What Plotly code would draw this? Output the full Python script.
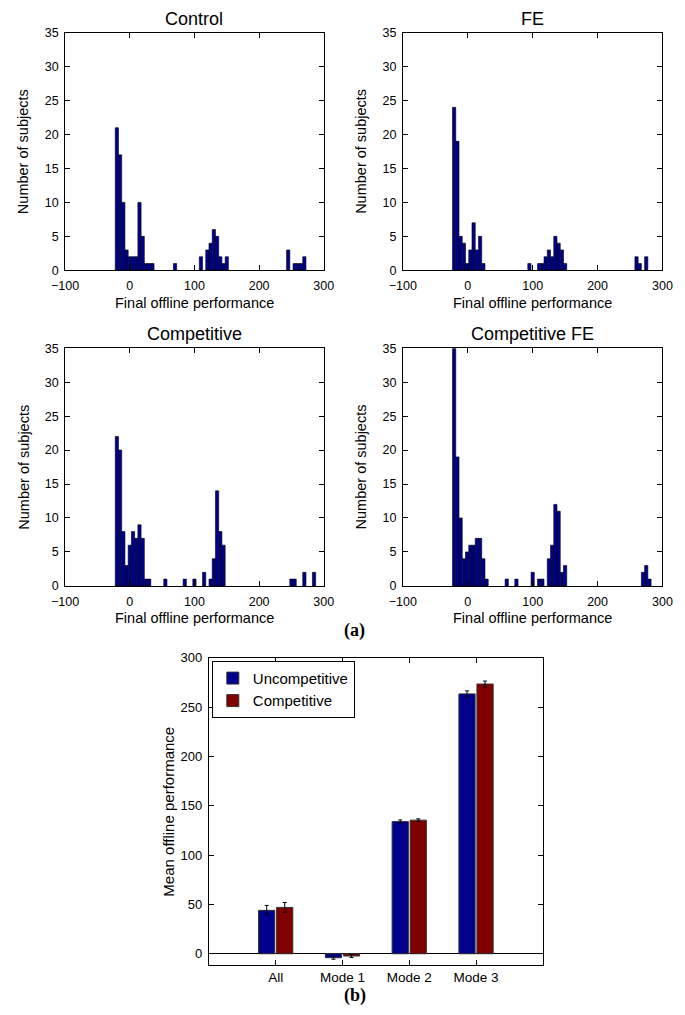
import plotly.graph_objects as go

# ---------------- data: histograms (bin centres and counts) ----------------
control_x = [-20, -15, -10, -5, 0, 5, 10, 15, 20, 25, 30, 35, 70,
             110, 120, 125, 130, 135, 140, 145, 150, 245, 255, 260, 265, 270]
control_n = [21, 17, 10, 3, 2, 2, 2, 10, 5, 1, 1, 1, 1,
             2, 3, 4, 6, 5, 2, 1, 2, 3, 1, 1, 1, 2]

fe_x = [-21, -16, -11, -6, -1, 4, 9, 14, 19, 24, 95,
        110, 115, 120, 125, 130, 135, 140, 145, 150, 260, 265, 275]
fe_n = [24, 19, 5, 4, 1, 3, 7, 3, 5, 1, 1,
        1, 1, 2, 3, 2, 5, 4, 3, 1, 2, 1, 2]

comp_x = [-20, -15, -10, -5, 0, 5, 10, 15, 20, 25, 30, 55, 85, 100,
          115, 125, 130, 135, 140, 145, 250, 255, 270, 285]
comp_n = [22, 20, 8, 3, 6, 8, 7, 9, 7, 1, 1, 1, 1, 1,
          2, 1, 4, 14, 8, 6, 1, 1, 2, 2]

compfe_x = [-21, -16, -11, -6, -1, 4, 9, 14, 19, 24, 29, 60, 75, 100,
            110, 115, 125, 130, 135, 140, 145, 150, 270, 275, 280]
compfe_n = [35, 19, 10, 4, 5, 6, 6, 7, 7, 4, 1, 1, 1, 2,
            1, 1, 4, 6, 12, 11, 2, 3, 2, 3, 1]

hist_titles = ["Control", "FE", "Competitive", "Competitive FE"]
bin_width = 5

# ---------------- data: mean offline performance ----------------
groups = ["All", "Mode 1", "Mode 2", "Mode 3"]
uncomp_mean = [44, -4, 134, 263.5]
uncomp_err = [5, 1.5, 1.7, 3]
comp_mean = [47, -2.3, 135.5, 273.5]
comp_err = [5, 1.5, 1.3, 3]

# ---------------- figure ----------------
W, H = 685, 1015
FONT = "Liberation Sans, Arial, Helvetica, sans-serif"
SERIF = "Liberation Serif, Times New Roman, serif"
HIST_BLUE = "#00008F"
BLUE = "#00008F"
RED = "#800000"

fig = go.Figure()

# pixel boxes (left, right, top, bottom)
boxes = [(53, 321, 26, 267), (403, 672, 26, 267),
         (53, 321, 346, 587), (403, 672, 346, 587)]
hist_data = [(control_x, control_n), (fe_x, fe_n),
             (comp_x, comp_n), (compfe_x, compfe_n)]

base = dict(showgrid=False, zeroline=False, showline=True,
            linecolor="black", linewidth=1, mirror="allticks",
            ticks="inside", ticklen=5, tickcolor="black")

annotations = []
for i, ((l, r, t, b), (xs, ns), title) in enumerate(zip(boxes, hist_data, hist_titles)):
    k = i + 1
    xa = "x" if k == 1 else f"x{k}"
    ya = "y" if k == 1 else f"y{k}"
    fig.add_trace(go.Bar(x=xs, y=ns, width=bin_width, xaxis=xa, yaxis=ya,
                         marker=dict(color=HIST_BLUE, line=dict(color="black", width=0.6)),
                         showlegend=False))
    xkey = "xaxis" if k == 1 else f"xaxis{k}"
    ykey = "yaxis" if k == 1 else f"yaxis{k}"
    fig.update_layout(**{
        xkey: dict(domain=[l / W, r / W], anchor=ya, range=[-100, 300],
                   tickvals=[-100, 0, 100, 200, 300], ticklabelstandoff=4,
                   tickfont=dict(family=FONT, size=12.5, color="black"), **base),
        ykey: dict(domain=[1 - b / H, 1 - t / H], anchor=xa, range=[0, 35],
                   tickvals=[0, 5, 10, 15, 20, 25, 30, 35], ticklabelstandoff=3,
                   tickfont=dict(family=FONT, size=12.5, color="black"), **base),
    })
    cx = (l + r) / 2
    annotations.append(dict(text=title, x=cx / W, y=1 - (t - 14) / H, xref="paper", yref="paper",
                            showarrow=False, xanchor="center", yanchor="middle",
                            font=dict(family=FONT, size=18, color="black")))
    annotations.append(dict(text="Final offline performance", x=cx / W, y=1 - (b + 33) / H,
                            xref="paper", yref="paper", showarrow=False,
                            xanchor="center", yanchor="middle",
                            font=dict(family=FONT, size=14.5, color="black")))
    annotations.append(dict(text="Number of subjects", x=(l - 43) / W, y=1 - ((t + b) / 2) / H,
                            xref="paper", yref="paper", showarrow=False, textangle=-90,
                            xanchor="center", yanchor="middle",
                            font=dict(family=FONT, size=14.5, color="black")))

# bar chart
bl, br, bt, bb = 202, 548, 660, 971
fig.add_trace(go.Bar(x=groups, y=uncomp_mean, name="Uncompetitive", xaxis="x5", yaxis="y5",
                     marker=dict(color=BLUE, line=dict(color="#333333", width=1)),
                     error_y=dict(type="data", array=uncomp_err, color="black",
                                  thickness=1, width=2)))
fig.add_trace(go.Bar(x=groups, y=comp_mean, name="Competitive", xaxis="x5", yaxis="y5",
                     marker=dict(color=RED, line=dict(color="#333333", width=1)),
                     error_y=dict(type="data", array=comp_err, color="black",
                                  thickness=1, width=2)))
fig.update_layout(
    xaxis5=dict(domain=[bl / W, br / W], anchor="y5", range=[-1, 4], type="category",
                ticklabelstandoff=0,
                tickfont=dict(family=FONT, size=13.5, color="black"), **base),
    yaxis5=dict(domain=[1 - bb / H, 1 - bt / H], anchor="x5", range=[-11, 300],
                tickvals=[0, 50, 100, 150, 200, 250, 300], ticklabelstandoff=3,
                showgrid=False, zeroline=True, zerolinecolor="black", zerolinewidth=1,
                showline=True, linecolor="black", linewidth=1, mirror="allticks",
                ticks="inside", ticklen=5, tickcolor="black",
                tickfont=dict(family=FONT, size=13, color="black")),
)
annotations.append(dict(text="Mean offline performance", x=(bl - 42) / W, y=1 - ((bt + bb) / 2) / H,
                        xref="paper", yref="paper", showarrow=False, textangle=-90,
                        xanchor="center", yanchor="middle",
                        font=dict(family=FONT, size=15, color="black")))
annotations.append(dict(text="<b>(a)</b>", x=353 / W, y=1 - 632 / H, xref="paper", yref="paper",
                        showarrow=False, xanchor="center", yanchor="middle",
                        font=dict(family=SERIF, size=18, color="black")))
annotations.append(dict(text="<b>(b)</b>", x=353 / W, y=1 - 1002 / H, xref="paper", yref="paper",
                        showarrow=False, xanchor="center", yanchor="middle",
                        font=dict(family=SERIF, size=18, color="black")))

fig.update_layout(
    width=W, height=H,
    margin=dict(l=0, r=0, t=0, b=0),
    paper_bgcolor="white", plot_bgcolor="white",
    barmode="group", bargap=0.46, bargroupgap=0.1,
    font=dict(family=FONT, color="black"),
    annotations=annotations,
    legend=dict(x=205 / W, y=1 - 663 / H, xanchor="left", yanchor="top",
                bordercolor="black", borderwidth=1, bgcolor="white",
                font=dict(family=FONT, size=15, color="black"),
                tracegroupgap=0, itemwidth=30),
)

fig.write_html("out.html", config={"displayModeBar": False},
               post_script="document.body.style.margin='0';")
